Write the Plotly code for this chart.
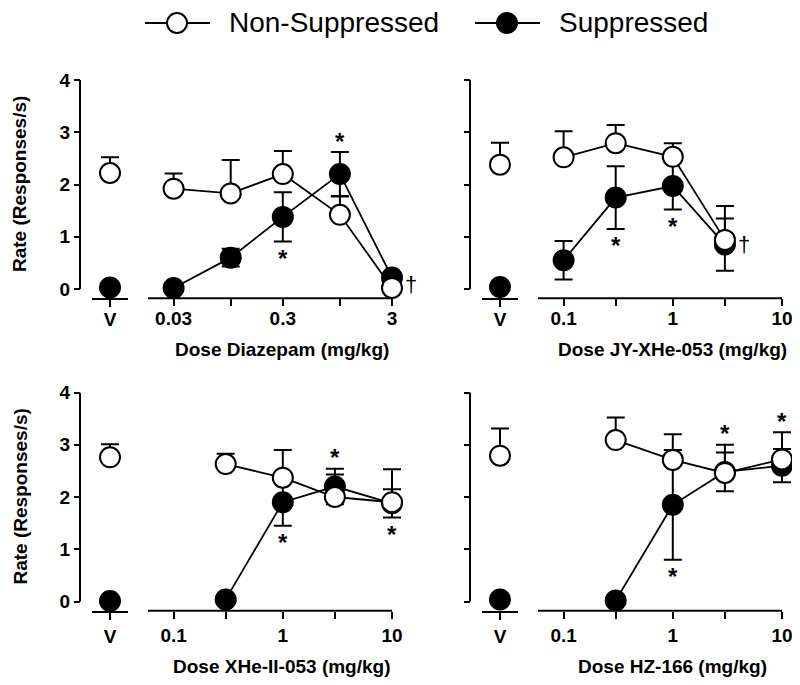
import math

import plotly.graph_objects as go

# ---- data (rate, responses/s) ----
titles = ["Dose Diazepam (mg/kg)", "Dose JY-XHe-053 (mg/kg)",
          "Dose XHe-II-053 (mg/kg)", "Dose HZ-166 (mg/kg)"]

doses_dzp = [0.03, 0.1, 0.3, 1, 3]
doses_jy = [0.1, 0.3, 1, 3]
doses_xhe = [0.3, 1, 3, 10]
doses_hz = [0.3, 1, 3, 10]

ticks_dzp = [0.03, 0.1, 0.3, 1, 3]
ticklabels_dzp = ["0.03", "", "0.3", "", "3"]
ticks_other = [0.1, 0.3, 1, 3, 10]
ticklabels_other = ["0.1", "", "1", "", "10"]

# vehicle values
veh_ns = [2.22, 2.38, 2.76, 2.79]
veh_ns_err = [0.30, 0.42, 0.25, 0.52]
veh_sup = [0.03, 0.04, 0.01, 0.04]

ns_dzp = [1.92, 1.83, 2.20, 1.42, 0.02]
ns_dzp_err = [0.29, 0.64, 0.44, 0.35, 0.0]
sup_dzp = [0.02, 0.60, 1.38, 2.20, 0.22]
sup_dzp_err = [0.0, 0.17, 0.47, 0.42, 0.05]

ns_jy = [2.52, 2.79, 2.53, 0.94]
ns_jy_err = [0.50, 0.35, 0.26, 0.65]
sup_jy = [0.55, 1.75, 1.97, 0.85]
sup_jy_err = [0.37, 0.60, 0.45, 0.50]

ns_xhe = [2.63, 2.37, 2.00, 1.90]
ns_xhe_err = [0.20, 0.53, 0.43, 0.63]
sup_xhe = [0.04, 1.90, 2.20, 1.88]
sup_xhe_err = [0.0, 0.45, 0.34, 0.27]

ns_hz = [3.09, 2.71, 2.46, 2.72]
ns_hz_err = [0.43, 0.49, 0.54, 0.52]
sup_hz = [0.02, 1.85, 2.48, 2.60]
sup_hz_err = [0.0, 1.05, 0.37, 0.32]

# significance marks: (dose, "above"/"below")
stars = [
    [(0.3, "below"), (1, "above")],
    [(0.3, "below"), (1, "below")],
    [(1, "below"), (3, "above"), (10, "below")],
    [(1, "below"), (3, "above"), (10, "above")],
]
daggers = [3, 3, None, None]

panels = [
    (doses_dzp, ns_dzp, ns_dzp_err, sup_dzp, sup_dzp_err, ticks_dzp, ticklabels_dzp),
    (doses_jy, ns_jy, ns_jy_err, sup_jy, sup_jy_err, ticks_other, ticklabels_other),
    (doses_xhe, ns_xhe, ns_xhe_err, sup_xhe, sup_xhe_err, ticks_other, ticklabels_other),
    (doses_hz, ns_hz, ns_hz_err, sup_hz, sup_hz_err, ticks_other, ticklabels_other),
]

# the page body has an 8px margin, so the figure is 8px smaller each way
OFF = 8
W, H = 800 - OFF, 685 - OFF
FONT = "Liberation Sans, Arial, sans-serif"
PX_PER_UNIT = 52.25
PX_PER_DECADE = 109.2
PAD = 14  # room on the right so caps at the last dose are not clipped


def px(x):
    return (x - OFF) / W


def py(y):
    return 1 - (y - OFF) / H


fig = go.Figure()
annotations = []
shapes = []
bold = dict(family=FONT, size=19, color="black", weight="bold")
axis_common = dict(ticks="outside", tickwidth=2, tickcolor="black", showgrid=False,
                   zeroline=False, tickfont=bold, fixedrange=True, automargin=False)

for i, (doses, ns, ns_err, sup, sup_err, tvals, tlabels) in enumerate(panels):
    dx = 390 * (i % 2)
    dy = 312.5 * (i // 2)
    xv, xl, yy = 2 * i + 1, 2 * i + 2, i + 1
    xv_ref = "x" if xv == 1 else f"x{xv}"
    xl_ref = f"x{xl}"
    y_ref = "y" if yy == 1 else f"y{yy}"

    y_top, y_zero, y_axis = 80 + dy, 289 + dy, 298.3 + dy
    y_lo = -(y_axis - y_zero) / PX_PER_UNIT

    hi = math.log10(tvals[-1])
    lo = hi - 244 / PX_PER_DECADE

    err_style = dict(type="data", color="black", thickness=2, width=9)

    # suppressed (filled) first, non-suppressed drawn on top
    fig.add_trace(go.Scatter(
        x=[0], y=[veh_sup[i]], xaxis=xv_ref, yaxis=y_ref, mode="markers",
        marker=dict(size=20, color="black", line=dict(color="black", width=2)),
        cliponaxis=False))
    fig.add_trace(go.Scatter(
        x=doses, y=sup, xaxis=xl_ref, yaxis=y_ref, mode="lines+markers",
        name="Suppressed", line=dict(color="black", width=1.8),
        marker=dict(size=20, color="black", line=dict(color="black", width=2)),
        error_y=dict(array=sup_err, **err_style), cliponaxis=False))
    fig.add_trace(go.Scatter(
        x=[0], y=[veh_ns[i]], xaxis=xv_ref, yaxis=y_ref, mode="markers",
        marker=dict(size=20, color="white", line=dict(color="black", width=2)),
        error_y=dict(array=[veh_ns_err[i]], arrayminus=[0], **err_style),
        cliponaxis=False))
    fig.add_trace(go.Scatter(
        x=doses, y=ns, xaxis=xl_ref, yaxis=y_ref, mode="lines+markers",
        name="Non-Suppressed", line=dict(color="black", width=1.8),
        marker=dict(size=20, color="white", line=dict(color="black", width=2)),
        error_y=dict(array=ns_err, arrayminus=[0] * len(ns), **err_style),
        cliponaxis=False))

    standoff = -4 if i < 2 else 0
    xv_key = "xaxis" if xv == 1 else f"xaxis{xv}"
    fig.layout[xv_key] = dict(
        domain=[px(92 + dx), px(128 + dx)], anchor=y_ref, range=[-1, 1],
        tickvals=[0], ticktext=["V"], showline=True, linecolor="black", linewidth=2,
        ticklen=7, ticklabelstandoff=standoff, **axis_common)
    fig.layout[f"xaxis{xl}"] = dict(
        domain=[px(148 + dx), px(392 + PAD + dx)], anchor=y_ref, type="log",
        range=[lo, hi + PAD / PX_PER_DECADE], ticklabelstandoff=standoff,
        tickvals=tvals, ticktext=tlabels, showline=False, ticklen=7, **axis_common)
    y_key = "yaxis" if yy == 1 else f"yaxis{yy}"
    fig.layout[y_key] = dict(
        domain=[py(y_axis), py(y_top)], range=[y_lo, 4], anchor="free", position=px(80 + dx),
        tickvals=[0, 1, 2, 3, 4], showticklabels=(i % 2 == 0), showline=False,
        ticklen=6, **axis_common)

    # y axis line only spans 0..4, dose axis line stops at the last tick
    shapes.append(dict(type="line", xref="paper", yref=y_ref, x0=px(80 + dx), x1=px(80 + dx),
                       y0=0, y1=4, line=dict(color="black", width=2)))
    shapes.append(dict(type="line", xref=xl_ref, yref="paper", x0=10 ** lo, x1=tvals[-1],
                       y0=py(y_axis), y1=py(y_axis), line=dict(color="black", width=2)))

    title_y = 349 if i < 2 else 666
    annotations.append(dict(
        text=titles[i], xref="paper", yref="paper", x=px(282 + dx), y=py(title_y),
        showarrow=False, xanchor="center", yanchor="middle", font=bold))
    if i % 2 == 0:
        annotations.append(dict(
            text="Rate (Responses/s)", xref="paper", yref="paper", x=px(20), y=py(184 + dy),
            showarrow=False, textangle=-90, xanchor="center", yanchor="middle", font=bold))

    for d, where in stars[i]:
        k = doses.index(d)
        if where == "above":
            yv = max(ns[k] + ns_err[k], sup[k] + sup_err[k])
            shift = 11
        else:
            yv = sup[k] - sup_err[k]
            shift = -17
        annotations.append(dict(
            text="*", xref=xl_ref, yref=y_ref, x=math.log10(d), y=yv, yshift=shift,
            showarrow=False, xanchor="center", yanchor="middle",
            font=dict(family=FONT, size=24, color="black", weight="bold")))
    if daggers[i] is not None:
        k = doses.index(daggers[i])
        annotations.append(dict(
            text="†", xref=xl_ref, yref=y_ref, x=math.log10(daggers[i]),
            y=(ns[k] + sup[k]) / 2, xshift=19, yshift=-2, showarrow=False,
            xanchor="center", yanchor="middle",
            font=dict(family=FONT, size=22, color="black")))

# hand-made legend at the top
legend_items = [("Non-Suppressed", "white", 145), ("Suppressed", "black", 475)]
for label, fill, x0 in legend_items:
    shapes.append(dict(type="line", xref="paper", yref="paper", x0=px(x0), x1=px(x0 + 65),
                       y0=py(23), y1=py(23), line=dict(color="black", width=2)))
    shapes.append(dict(type="circle", xref="paper", yref="paper",
                       x0=px(x0 + 22), x1=px(x0 + 42), y0=py(33), y1=py(13),
                       fillcolor=fill, line=dict(color="black", width=2)))
    annotations.append(dict(
        text=label, xref="paper", yref="paper", x=px(x0 + 82), y=py(22),
        showarrow=False, xanchor="left", yanchor="middle",
        font=dict(family=FONT, size=28, color="black")))

fig.update_layout(
    width=W, height=H, margin=dict(l=0, r=0, t=0, b=0),
    paper_bgcolor="white", plot_bgcolor="white",
    font=dict(family=FONT, color="black"),
    showlegend=False,
    annotations=annotations, shapes=shapes,
)

fig.write_html("out.html")
